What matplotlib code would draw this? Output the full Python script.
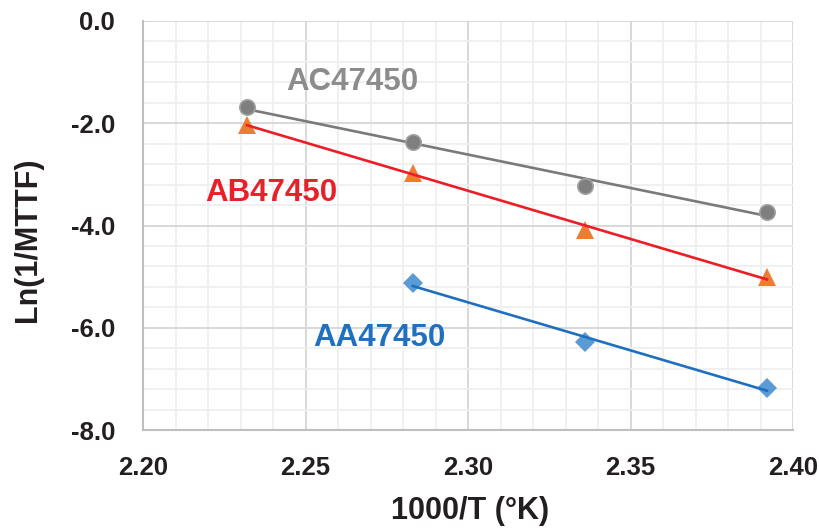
import numpy as np
import matplotlib
matplotlib.use("Agg")
import matplotlib.pyplot as plt
from matplotlib.ticker import MultipleLocator

plt.rcParams['font.family'] = ['Liberation Sans', 'DejaVu Sans']
plt.rcParams['font.weight'] = 'bold'

# data
x_ac = [2.232, 2.283, 2.336, 2.392]
y_ac = [-1.69, -2.37, -3.22, -3.73]

x_ab = [2.232, 2.283, 2.336, 2.392]
y_ab = [-2.03, -2.97, -4.08, -5.01]

x_aa = [2.283, 2.336, 2.392]
y_aa = [-5.13, -6.28, -7.18]

x_ticks = [2.20, 2.25, 2.30, 2.35, 2.40]
y_ticks = [0.0, -2.0, -4.0, -6.0, -8.0]

fig = plt.figure(figsize=(8.2, 5.31), dpi=100)
ax = fig.add_axes([0.1744, 0.190, 0.7927, 0.7705])

# grid
ax.xaxis.set_minor_locator(MultipleLocator(0.01))
ax.yaxis.set_minor_locator(MultipleLocator(0.4))
ax.grid(True, which="minor", color="#efefef", linewidth=1.3, zorder=0)
ax.grid(True, which="major", color="#d6d6d6", linewidth=1.3, zorder=0)
ax.set_axisbelow(True)


def trend(xs, ys):
    k, b = np.polyfit(xs, ys, 1)
    xx = np.array([min(xs), max(xs)])
    return xx, k * xx + b


# AC47450
tx, ty = trend(x_ac, y_ac)
ax.plot(tx, ty, color="#7a7a7a", linewidth=1.9, zorder=2)
ax.plot(x_ac, y_ac, "o", color="#7f7f7f", markeredgecolor="#a0a0a0",
        markeredgewidth=1.2, markersize=11, zorder=3)

# AB47450
tx, ty = trend(x_ab, y_ab)
ax.plot(tx, ty, color="#ee1c25", linewidth=1.9, zorder=4)
ax.plot(x_ab, y_ab, "^", color="#ed7d31", markeredgewidth=0,
        markersize=13, zorder=3)

# AA47450
tx, ty = trend(x_aa, y_aa)
ax.plot(tx, ty, color="#1f6fc0", linewidth=1.9, zorder=4)
ax.plot(x_aa, y_aa, "D", color="#5b9bd5", markeredgewidth=0,
        markersize=10, zorder=3)

ax.text(2.2643, -1.19, "AC47450", color="#8c8c8c", fontsize=22.5,
        fontweight="bold", ha="center", va="center")
ax.text(2.2394, -3.37, "AB47450", color="#e8202a", fontsize=22.5,
        fontweight="bold", ha="center", va="center")
ax.text(2.2727, -6.19, "AA47450", color="#1f70c1", fontsize=22.5,
        fontweight="bold", ha="center", va="center")

ax.set_xlim(2.20, 2.40)
ax.set_ylim(-8.0, 0.0)
ax.set_xticks(x_ticks)
ax.set_yticks(y_ticks)
ax.set_xticklabels([f"{v:.2f}" for v in x_ticks])
ax.set_yticklabels([f"{v:.1f}" for v in y_ticks])
ax.tick_params(which="both", length=0)
ax.tick_params(axis="x", pad=19, labelsize=18.5, labelcolor="#231f20")
ax.tick_params(axis="y", pad=20, labelsize=18.5, labelcolor="#231f20")

for s in ["top", "right"]:
    ax.spines[s].set_visible(False)
ax.spines["left"].set_color("#bfbfbf")
ax.spines["bottom"].set_color("#bfbfbf")
ax.spines["left"].set_linewidth(1.5)
ax.spines["bottom"].set_linewidth(1.5)

fig.text(0.573, 0.0377, "1000/T (°K)", fontsize=22, fontweight="bold",
         color="#231f20", ha="center", va="center")
fig.text(0.034, 0.548, "Ln(1/MTTF)", fontsize=22, fontweight="bold",
         color="#231f20", ha="center", va="center", rotation=90)

fig.savefig("out.png", dpi=100)
